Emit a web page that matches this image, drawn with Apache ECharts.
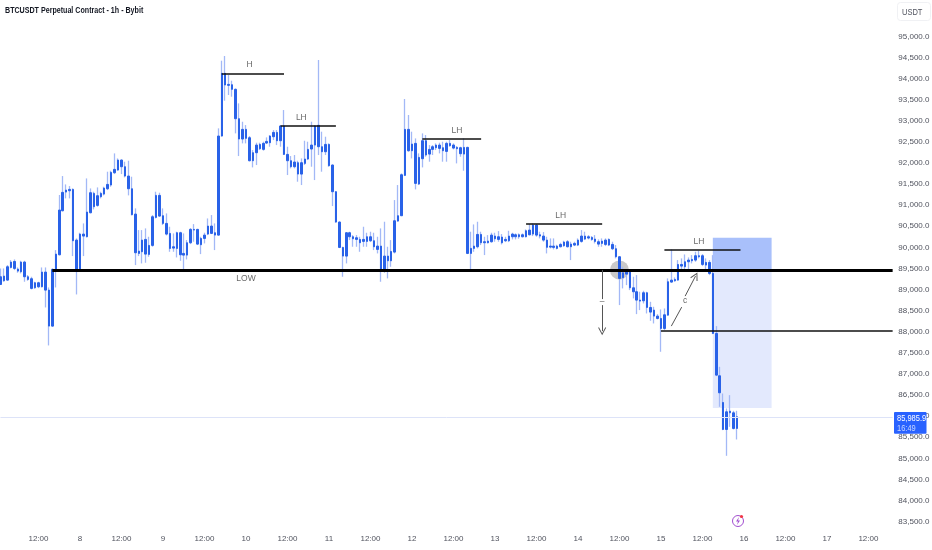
<!DOCTYPE html>
<html><head><meta charset="utf-8">
<style>html,body{margin:0;padding:0;background:#fff}#c{width:932px;height:550px}</style>
<script src="https://cdn.jsdelivr.net/npm/echarts@6/dist/echarts.min.js"></script>
</head><body><div id="c"></div>
<script>
const bodyTop=[89303,89319,89540,89651,89666,89485,89651,89651,89303,89256,
89161,89161,89414,89414,88987,89477,89840,90883,91302,91357,
91373,91373,90172,
90314,90314,90836,91294,91278,91223,91278,91404,91491,91776,
91847,92068,92068,91910,91689,91388,90788,89911,90172,90188,
90046,90725,91231,91231,90749,90567,90330,90014,90346,90346,
89856,90109,90425,90425,90425,90211,90290,90504,90504,90346,
92637,94122,94122,93861,93853,93743,93048,92795,92795,92597,
92242,92423,92439,92463,92510,92637,92723,92723,92874,92874,
92202,92052,92021,92005,92005,92092,92321,92423,92874,92890,
92384,92439,92439,91950,91318,90599,89998,90346,90346,90251,
90227,90188,90188,90251,90251,90156,90030,90030,89793,89793,
89903,90630,90749,91720,92795,92795,92447,92463,92131,92526,
92526,92321,92384,92423,92423,92360,92463,92463,92424,92368,
92360,92368,92368,89975,90030,90306,90306,90133,90148,90290,
90267,90251,90243,90188,90267,90314,90298,90298,90298,90393,
90409,90528,90528,90298,90267,90172,90030,90030,90030,90069,
90125,90133,90077,90093,90172,90267,90267,90251,90235,90196,
90133,90148,90172,90188,90069,89967,89777,89398,89414,89414,
89042,88948,88750,88924,88924,88576,88513,88371,88315,88402,
89185,89224,89240,89595,89595,89658,89698,89714,89801,89801,
89801,89643,89643,89382,87960,86957,86325,86104,86119,86080,
85985.9];
const bodyBottom=[89121,89208,89224,89524,89500,89437,89421,89303,89240,89027,
89042,89066,89066,88987,88134,88134,89461,89824,90867,91310,
91341,90156,89477,
89477,90267,90251,90820,90962,90994,91199,91262,91388,91476,
91768,91831,91910,91689,91388,90773,89872,89856,89895,89840,
89832,90046,90709,90741,90567,90314,89974,89982,89974,89824,
89816,89816,90109,90409,90077,90062,90211,90314,90330,90290,
90290,92637,93846,93838,93743,93048,92566,92566,92582,92052,
92052,92242,92337,92321,92471,92479,92621,92526,92526,92202,
92052,91910,91910,91736,91736,91989,92092,92329,92423,92384,
92265,92265,91934,91318,90599,89998,89793,89793,90251,90204,
90188,90109,90141,90141,90156,90014,89951,89461,89461,89682,
89682,89888,90622,90749,91705,92289,92289,91515,91499,92100,
92187,92210,92321,92360,92345,92289,92273,92408,92352,92337,
92218,92210,89856,89856,89975,90014,90109,90109,90109,90133,
90204,90188,90109,90156,90156,90251,90251,90251,90251,90251,
90298,90314,90290,90267,90172,90000,90006,89998,89975,90014,
90038,90014,90014,90054,90054,90141,90196,90220,90188,90141,
90077,90093,90069,90054,89967,89777,89264,89279,89366,89042,
88948,88750,88726,88734,88576,88466,88371,88315,88078,88078,
88394,89177,89208,89224,89556,89540,89658,89682,89698,89777,
89595,89580,89382,87960,86973,86554,85685,85685,86080,85709,
85709];
const highs=[89500,89500,89580,89698,89714,89524,89682,89682,89343,89303,
89185,89185,89524,89524,89050,89500,89935,91240,91689,91491,
91452,91396,90211,
90346,90567,91633,91396,91318,91420,91318,91436,91792,91815,
92226,92107,92084,92029,92052,91673,90923,90409,90409,90449,
90251,90765,91318,91294,90923,90804,90488,90330,90370,90370,
90330,90172,90457,90551,90441,90251,90346,90685,90765,90567,
92819,94422,94533,94083,93948,93767,93411,92976,92897,92637,
92305,92479,92479,92503,92605,92660,92779,92779,92897,93253,
92384,92163,92187,92052,92107,92526,92503,92976,92897,94438,
92740,92621,92463,91966,91334,90615,90014,90362,90370,90290,
90290,90251,90488,90346,90370,90346,90251,90449,90607,90014,
90172,91120,91476,91752,93514,93135,92740,92581,92226,92700,
92660,92423,92423,92463,92479,92503,92503,92542,92463,92400,
92384,92582,92384,90370,90543,90607,90370,90251,90290,90346,
90346,90385,90314,90251,90393,90346,90330,90330,90330,90425,
90551,90567,90551,90370,90362,90251,90212,90212,90061,90109,
90156,90172,90133,90133,90212,90409,90370,90290,90267,90290,
90188,90212,90212,90212,90133,90054,89793,89540,89461,89445,
89303,89343,88948,88971,88948,88710,88592,88418,88529,88552,
89264,89951,89287,89698,89738,89832,89761,89816,89896,89919,
89840,89738,89698,89816,88134,87170,86538,86183,86498,86127,
86127];
const lows=[89105,89185,89208,89500,89461,89398,89382,89185,89208,89003,
89019,89034,89050,88576,87676,88118,89050,89809,90851,91160,
91160,89793,88884,
89461,89793,90235,90804,90899,90962,91160,91231,91357,91436,
91736,91815,91736,91657,91231,90757,89580,89793,89619,89635,
89777,90014,90685,90725,90528,90283,89895,89895,89761,89682,
89421,89714,90077,90133,90054,89840,90093,90290,90314,89935,
90275,92621,93474,93609,93569,92700,92163,92463,92463,92036,
91894,91950,92305,92289,92447,92384,92542,92423,92384,92187,
91713,91871,91871,91555,91476,91950,92068,91910,91594,92187,
91792,92187,91910,90978,90583,89982,89303,89619,90172,90014,
90014,89895,90014,90014,90125,89935,89856,89185,89398,89264,
89540,89856,90607,90741,91689,92265,92107,91373,91476,91894,
92147,92029,92187,92305,92226,92029,92029,92384,92321,91989,
92147,91815,89840,89421,89895,89975,90054,89817,90093,90109,
90133,90133,90069,90125,90125,90188,90188,90204,90235,90235,
90283,90267,90251,90212,90133,89856,89975,89951,89951,89998,
90014,89998,89698,90030,90030,90109,90172,90188,90156,90093,
90014,90014,90030,90030,89935,89738,88632,89027,89105,88987,
88790,88418,88513,88671,88434,88260,88197,88292,87526,88039,
88379,89161,89184,89208,89461,89461,89461,89619,89658,89738,
89556,89461,89342,87944,86949,86222,85669,85061,85748,85685,
85448];

const firstDay=7, firstHour=1, slotCount=260;
const categories=[];
for(let i=0;i<slotCount;i++){const t=firstHour+i;categories.push((firstDay+Math.floor(t/24))+' '+String(t%24).padStart(2,'0')+':00');}

const priceTicks={min:83500,max:95500,step:500};
const lastPrice=85985.9;
const lowLevel=89465, targetLevel=88031;

// [start slot, end slot, price]
const structureLines=[[64,82,94106],[81,97,92874],[122,139,92566],[152,174,90567],[192,214,89951]];
const structureTexts=[['H',72,94320],['LH',87,93063],['LH',132,92755],['LH',162,90741],['LH',202,90125],['LOW',71,89248]];
const zoneTop=[206,223,90225,89465];
const zoneBottom=[206,223,89465,86195];

const ink='#111';
const body='#2962e8', wick='#a3b8f6';
const font='Liberation Sans';
const arrowHead='path://M0,0 L5,8 L4,8.7 L0,2 L-4,8.7 L-5,8 Z';
function seg(a,b,style,head){return [{coord:a,lineStyle:style,symbol:'none'},{coord:b,symbol:head||'none',symbolSize:8}];}
function squeezed(text,x,y,size,fill,weight){return {type:'text',x:x,y:y,scaleX:0.79,z:21,
  style:{x:0,y:0,text:text,fontFamily:font,fontSize:size,fontWeight:weight||'normal',fill:fill,textVerticalAlign:'middle'}};}

const chart=echarts.init(document.getElementById('c'),null,{renderer:'canvas'});
const thin={color:'#555',width:1,type:'solid'};
chart.setOption({
 animation:false,backgroundColor:'#fff',
 grid:{left:-1.26,top:15.2,right:34.18,bottom:28.3,containLabel:false,outerBoundsMode:'none'},
 xAxis:{type:'category',data:categories,boundaryGap:true,axisLine:{show:false},axisTick:{show:false},splitLine:{show:false},
  axisLabel:{margin:13,fontFamily:font,fontSize:8,color:'#50535e',hideOverlap:false,
   interval:(i,v)=>/ (00|12):00$/.test(v),
   formatter:v=>v.endsWith('12:00')?'12:00':v.split(' ')[0]}},
 yAxis:{type:'value',position:'right',min:priceTicks.min,max:priceTicks.max,interval:priceTicks.step,scale:true,
  axisLine:{show:false},axisTick:{show:false},splitLine:{show:false},
  axisLabel:{margin:0.5,showMaxLabel:false,fontFamily:font,fontSize:8,color:'#50535e',
   formatter:v=>v.toLocaleString('en-US',{minimumFractionDigits:1,maximumFractionDigits:1})}},
 series:[
  {type:'line',data:[],z:1,silent:true,
   markArea:{silent:true,data:[
    [{coord:[zoneTop[0],zoneTop[2]],itemStyle:{color:'#a9c0fb',opacity:1}},{coord:[zoneTop[1],zoneTop[3]]}],
    [{coord:[zoneBottom[0],zoneBottom[2]],itemStyle:{color:'#e3e9fd',opacity:1}},{coord:[zoneBottom[1],zoneBottom[3]]}]]},
   markLine:{silent:true,symbol:'none',label:{show:false},data:[
    seg([0,lastPrice],[slotCount-2,lastPrice],{color:'#dde3f8',width:1,type:'solid'})]}},
  {type:'scatter',z:2,silent:true,symbolSize:19,itemStyle:{color:'rgba(120,120,120,0.5)'},data:[[179,lowLevel]]},
  {type:'candlestick',z:3,silent:true,barWidth:1,
   itemStyle:{color:wick,color0:wick,borderColor:wick,borderColor0:wick,borderWidth:1.3},
   data:bodyTop.map((t,i)=>[bodyBottom[i],t,lows[i],highs[i]])},
  {type:'candlestick',z:4,silent:true,barWidth:2,
   itemStyle:{color:body,color0:body,borderColor:body,borderColor0:body,borderWidth:1},
   data:bodyTop.map((t,i)=>[bodyBottom[i],t,bodyBottom[i],t])},
  {type:'line',data:[],z:5,silent:true,
   markLine:{silent:true,symbol:'none',label:{show:false},data:[
    seg([15,lowLevel],[slotCount-2,lowLevel],{color:'#000',width:3,type:'solid'}),
    seg([191,targetLevel],[slotCount-2,targetLevel],{color:ink,width:1.5,type:'solid'}),
    ...structureLines.map(l=>seg([l[0],l[2]],[l[1],l[2]],{color:ink,width:1.5,type:'solid'})),
    seg([174,lowLevel],[174,88774],thin),
    seg([174,88631],[174,88015],thin,arrowHead),
    seg([194,88134],[197,88584],thin),
    seg([198,88845],[201,89319],thin,arrowHead)]}},
  {type:'scatter',z:6,silent:true,symbolSize:0,
   label:{show:true,position:'inside',formatter:p=>p.name,fontFamily:font,fontSize:8.5,color:'#444'},
   data:structureTexts.concat([['c',197.5,88726],['–',174,88702]]).map(t=>({name:t[0],value:[t[1],t[2]]}))}
 ],
 graphic:[
  squeezed('BTCUSDT Perpetual Contract - 1h - Bybit',5,11,9,'#131722','bold'),
  {type:'rect',shape:{x:897.5,y:2.5,width:33,height:18,r:3},style:{fill:'#fff',stroke:'#f0f1f4',lineWidth:1},z:20},
  squeezed('USDT',902,12,9.5,'#50535e'),
  {type:'rect',shape:{x:894,y:412,width:32.5,height:21.7,r:1},style:{fill:'#2962ff'},z:20},
  squeezed('85,985.9',897,418,9.5,'#fff'),
  squeezed('16:49',897,428,9.5,'#c9d7ff'),
  {type:'circle',shape:{cx:738,cy:521,r:5.5},style:{fill:'#fff',stroke:'#a24fd0',lineWidth:1},z:20},
  {type:'polygon',shape:{points:[[739,517],[736,521.5],[738,521.5],[737,525],[740,520.5],[738,520.5]]},style:{fill:'#a24fd0'},z:21},
  {type:'circle',shape:{cx:741.5,cy:516.5,r:1.6},style:{fill:'#f23645'},z:22}
 ]
});
</script></body></html>
